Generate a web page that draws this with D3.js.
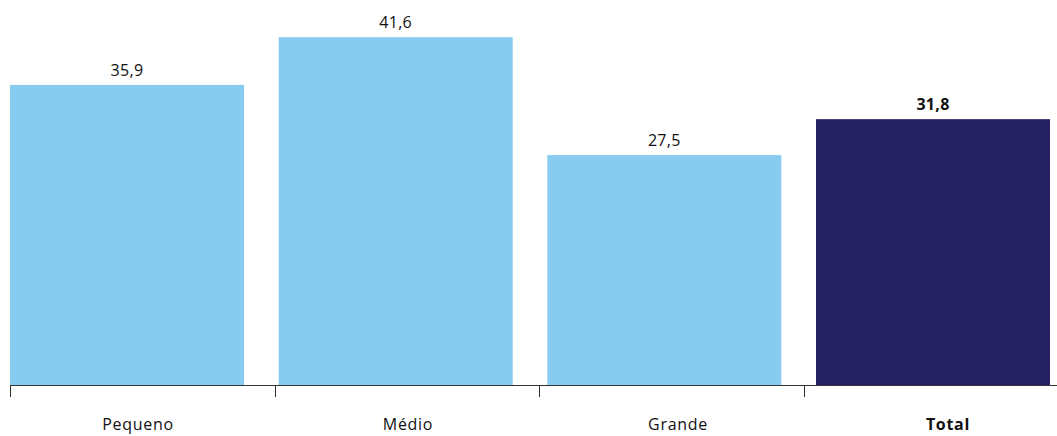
<!DOCTYPE html>
<html><head><meta charset="utf-8">
<script src="https://cdn.jsdelivr.net/npm/d3@7"></script>
<style>html,body{margin:0;padding:0;background:#fff;}svg{display:block;}</style>
</head><body>
<svg id="chart" width="1057" height="436"></svg>
<script>
const categories = ["Pequeno", "Médio", "Grande", "Total"];
const values = [35.9, 41.6, 27.5, 31.8];
const valueLabels = ["35,9", "41,6", "27,5", "31,8"];
const highlight = [false, false, false, true];

const svg = d3.select("#chart");
const font = "'Open Sans', sans-serif";
const baseY = 385;

const xBars = d3.scaleBand().domain(categories).range([10, 1050]).paddingInner(0.129).paddingOuter(0);
const xTicks = d3.scaleBand().domain(categories).range([10, 1068]).padding(0);
const xLabels = d3.scaleBand().domain(categories).range([3, 1083]).padding(0);
const y = d3.scaleLinear().domain([0, 45]).range([baseY, baseY - 45 * 8.36]);

svg.selectAll("rect.bar").data(categories).enter().append("rect")
  .attr("class", "bar")
  .attr("x", d => xBars(d))
  .attr("width", xBars.bandwidth())
  .attr("y", (d, i) => y(values[i]))
  .attr("height", (d, i) => y(0) - y(values[i]))
  .attr("fill", (d, i) => highlight[i] ? "#262262" : "#87CCF0");

svg.selectAll("text.val").data(categories).enter().append("text")
  .attr("class", "val")
  .attr("x", d => xBars(d) + xBars.bandwidth() / 2)
  .attr("y", (d, i) => y(values[i]) - 9)
  .attr("text-anchor", "middle")
  .attr("font-family", font)
  .attr("font-size", 16)
  .attr("letter-spacing", 0.3)
  .attr("font-weight", (d, i) => highlight[i] ? "bold" : "normal")
  .attr("fill", "#111")
  .text((d, i) => valueLabels[i]);

const axis = svg.append("g").attr("transform", `translate(0,${baseY})`);
axis.append("line").attr("x1", 10).attr("x2", 1057).attr("y1", 0.5).attr("y2", 0.5)
  .attr("stroke", "#333").attr("stroke-width", 1);
axis.selectAll("line.tick").data(categories).enter().append("line")
  .attr("class", "tick")
  .attr("x1", d => Math.round(xTicks(d)) + 0.5)
  .attr("x2", d => Math.round(xTicks(d)) + 0.5)
  .attr("y1", 0).attr("y2", 12)
  .attr("stroke", "#333").attr("stroke-width", 1);
axis.selectAll("text.cat").data(categories).enter().append("text")
  .attr("class", "cat")
  .attr("x", d => xLabels(d) + xLabels.bandwidth() / 2)
  .attr("y", 45)
  .attr("text-anchor", "middle")
  .attr("font-family", font)
  .attr("font-size", 16)
  .attr("letter-spacing", 0.7)
  .attr("font-weight", (d, i) => highlight[i] ? "bold" : "normal")
  .attr("fill", "#111")
  .text(d => d);
</script>
</body></html>
